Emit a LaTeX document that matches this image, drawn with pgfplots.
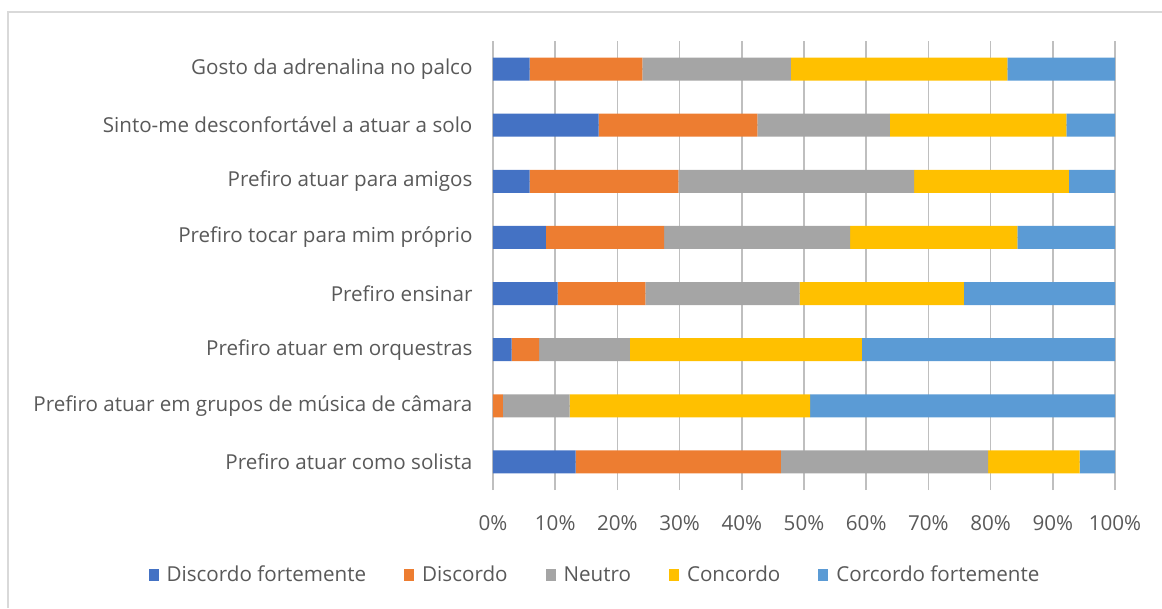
\documentclass[border=0pt]{standalone}
\usepackage{pgfplots}
\pgfplotsset{compat=1.18}
\usepackage{fontspec}
\setmainfont{Open Sans}
\definecolor{cBlue}{HTML}{4472C4}
\definecolor{cOrange}{HTML}{ED7D31}
\definecolor{cGray}{HTML}{A5A5A5}
\definecolor{cYellow}{HTML}{FFC000}
\definecolor{cLight}{HTML}{5B9BD5}
\definecolor{txt}{HTML}{595959}
\definecolor{grid}{HTML}{D9D9D9}
\pgfplotstableread{
y  df    d     n     c     cf
1  13.3  33.0  33.3  14.7  5.7
2  0.0   1.6   10.7  38.7  49.0
3  3.0   4.4   14.6  37.3  40.7
4  10.4  14.1  24.8  26.4  24.3
5  8.5   19.0  29.9  26.9  15.7
6  5.9   23.9  37.9  24.9  7.4
7  17.0  25.5  21.3  28.4  7.8
8  5.9   18.1  23.9  34.8  17.3
}\datatable
\begin{document}
\begin{tikzpicture}[x=1pt,y=1pt]
\useasboundingbox (0,0) rectangle (1162,608);
\draw[grid, line width=1.2pt] (8,0) -- (8,596) -- (1162,596);
\begin{axis}[
  at={(493pt,118pt)}, anchor=south west,
  scale only axis, width=622pt, height=449pt,
  xbar stacked, bar width=23pt,
  xmin=0, xmax=100, ymin=0.5, ymax=8.5,
  xtick={0,10,...,100},
  xticklabel={\pgfmathprintnumber{\tick}\%},
  ytick={1,...,8},
  yticklabels={Prefiro atuar como solista,
    Prefiro atuar em grupos de música de câmara,
    Prefiro atuar em orquestras,
    Prefiro ensinar,
    Prefiro tocar para mim próprio,
    Prefiro atuar para amigos,
    Sinto-me desconfortável a atuar a solo,
    Gosto da adrenalina no palco},
  xmajorgrids, major grid style={grid, line width=1.6pt},
  axis line style={draw=none},
  major tick length=0pt,
  tick label style={font=\fontsize{20.6}{24}\selectfont, text=txt},
  /pgf/number format/assume math mode=true,
  x tick label style={yshift=-22pt},
  y tick label style={xshift=-17pt},
  legend style={at={(0.164,-0.189)}, anchor=center, draw=none,
    font=\fontsize{20.6}{24}\selectfont, text=txt,
    legend columns=5, column sep=6pt,
    /tikz/every even column/.append style={column sep=36pt}},
  legend image code/.code={\fill[#1] (0pt,-6pt) rectangle (10pt,6pt);},
]
\addplot[fill=cBlue, draw=none] table[x=df, y=y] {\datatable};
\addplot[fill=cOrange, draw=none] table[x=d, y=y] {\datatable};
\addplot[fill=cGray, draw=none] table[x=n, y=y] {\datatable};
\addplot[fill=cYellow, draw=none] table[x=c, y=y] {\datatable};
\addplot[fill=cLight, draw=none] table[x=cf, y=y] {\datatable};
\legend{Discordo fortemente, Discordo, Neutro, Concordo, Corcordo fortemente}
\end{axis}
\end{tikzpicture}
\end{document}
